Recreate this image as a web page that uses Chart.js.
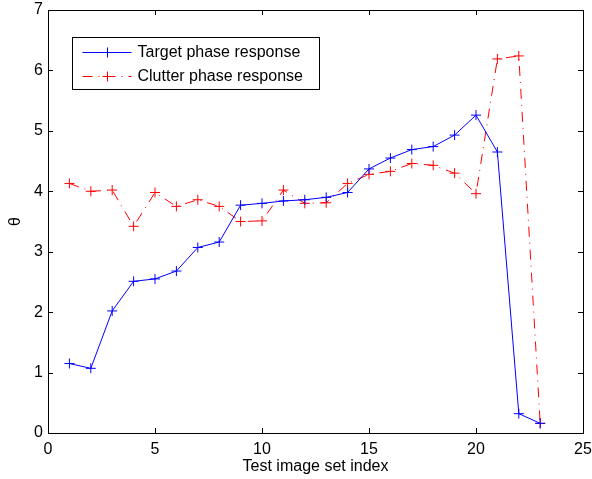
<!DOCTYPE html>
<html>
<head>
<meta charset="utf-8">
<script src="https://cdn.jsdelivr.net/npm/chart.js@4"></script>
<style>
  html, body { margin: 0; padding: 0; background: #fff; }
  #wrap { width: 592px; height: 479px; }
</style>
</head>
<body>
<div id="wrap"><canvas id="phaseChart" width="592" height="479"></canvas></div>
<script>
// Data
const setIndex = [1, 2, 3, 4, 5, 6, 7, 8, 9, 10, 11, 12, 13, 14, 15, 16, 17, 18, 19, 20, 21, 22, 23];
const targetPhase = [1.15, 1.07, 2.02, 2.51, 2.55, 2.68, 3.07, 3.16, 3.77, 3.80, 3.84, 3.86, 3.90, 3.98, 4.37, 4.55, 4.69, 4.74, 4.93, 5.26, 4.65, 0.32, 0.16];
const clutterPhase = [4.13, 4.00, 4.02, 3.42, 3.98, 3.75, 3.86, 3.75, 3.50, 3.51, 4.02, 3.80, 3.81, 4.13, 4.28, 4.33, 4.46, 4.43, 4.30, 3.96, 6.19, 6.24, 0.16];
const seriesNames = ['Target phase response', 'Clutter phase response'];
const seriesColors = ['#0000ff', '#ff0000'];
const seriesDash = [[], [10, 6, 1, 6]];
const xTicks = [0, 5, 10, 15, 20, 25];
const yTicks = [0, 1, 2, 3, 4, 5, 6, 7];

const FONT = { family: '"Liberation Sans", Arial, sans-serif', size: 16 };

function toPoints(values) {
    return values.map((v, i) => ({ x: setIndex[i], y: v }));
}

// Matlab-style box with inward ticks
const boxPlugin = {
    id: 'box',
    afterDraw(chart) {
        const { ctx, chartArea: a, scales } = chart;
        ctx.save();
        ctx.strokeStyle = '#000';
        ctx.lineWidth = 1;
        ctx.strokeRect(Math.round(a.left) + 0.5, Math.round(a.top) + 0.5,
            Math.round(a.right - a.left), Math.round(a.bottom - a.top));
        const len = 5;
        ctx.beginPath();
        xTicks.forEach(t => {
            const px = Math.round(scales.x.getPixelForValue(t)) + 0.5;
            ctx.moveTo(px, a.bottom); ctx.lineTo(px, a.bottom - len);
            ctx.moveTo(px, a.top); ctx.lineTo(px, a.top + len);
        });
        yTicks.forEach(t => {
            const py = Math.round(scales.y.getPixelForValue(t)) + 0.5;
            ctx.moveTo(a.left, py); ctx.lineTo(a.left + len, py);
            ctx.moveTo(a.right, py); ctx.lineTo(a.right - len, py);
        });
        ctx.stroke();
        ctx.restore();
    }
};

// Legend drawn inside the axes, upper left
const legendPlugin = {
    id: 'innerLegend',
    afterDatasetsDraw(chart) {
        const { ctx, chartArea: a } = chart;
        const x0 = Math.round(a.left) + 24.5, y0 = Math.round(a.top) + 27.5, w = 247, h = 52;
        ctx.save();
        ctx.fillStyle = '#fff';
        ctx.fillRect(x0, y0, w, h);
        ctx.strokeStyle = '#000';
        ctx.lineWidth = 1;
        ctx.strokeRect(x0, y0, w, h);
        seriesNames.forEach((name, i) => {
            const cy = y0 + 15 + i * 24;
            ctx.strokeStyle = seriesColors[i];
            ctx.setLineDash(seriesDash[i]);
            ctx.beginPath();
            ctx.moveTo(x0 + 10, cy); ctx.lineTo(x0 + 59, cy);
            ctx.stroke();
            ctx.setLineDash([]);
            const mx = x0 + 35;
            ctx.beginPath();
            ctx.moveTo(mx - 5, cy); ctx.lineTo(mx + 5, cy);
            ctx.moveTo(mx, cy - 5); ctx.lineTo(mx, cy + 5);
            ctx.stroke();
            ctx.fillStyle = '#000';
            ctx.font = FONT.size + 'px ' + FONT.family;
            ctx.textBaseline = 'middle';
            ctx.fillText(name, x0 + 65, cy);
        });
        ctx.restore();
    }
};

function makeDataset(i, values) {
    return {
        label: seriesNames[i],
        data: toPoints(values),
        borderColor: seriesColors[i],
        borderWidth: 1,
        borderDash: seriesDash[i],
        pointStyle: 'cross',
        pointRadius: 5,
        pointBorderColor: seriesColors[i],
        pointBorderWidth: 1,
        tension: 0,
        fill: false
    };
}

const ctx = document.getElementById('phaseChart').getContext('2d');
new Chart(ctx, {
    type: 'line',
    data: {
        datasets: [makeDataset(0, targetPhase), makeDataset(1, clutterPhase)]
    },
    options: {
        responsive: false,
        animation: false,
        layout: { padding: { left: 0, top: 10, right: 9, bottom: 0 } },
        plugins: { legend: { display: false }, tooltip: { enabled: false } },
        scales: {
            x: {
                type: 'linear',
                min: 0, max: 25,
                afterBuildTicks: s => { s.ticks = xTicks.map(v => ({ value: v })); },
                afterFit: s => { s.height = 46; s.paddingLeft = 0; s.paddingRight = 0; },
                grid: { display: false, drawTicks: false },
                border: { display: false },
                ticks: { color: '#000', font: FONT, padding: 7, maxRotation: 0 },
                title: { display: true, text: 'Test image set index', color: '#000', font: FONT, padding: { top: 0, bottom: 3 } }
            },
            y: {
                type: 'linear',
                min: 0, max: 7,
                afterBuildTicks: s => { s.ticks = yTicks.map(v => ({ value: v })); },
                afterFit: s => { s.width = 48; s.paddingTop = 0; s.paddingBottom = 0; },
                grid: { display: false, drawTicks: false },
                border: { display: false },
                ticks: { color: '#000', font: FONT, padding: 5 },
                title: { display: true, text: 'θ', color: '#000', font: FONT, padding: { top: 6, bottom: 0 } }
            }
        }
    },
    plugins: [boxPlugin, legendPlugin]
});
</script>
</body>
</html>
